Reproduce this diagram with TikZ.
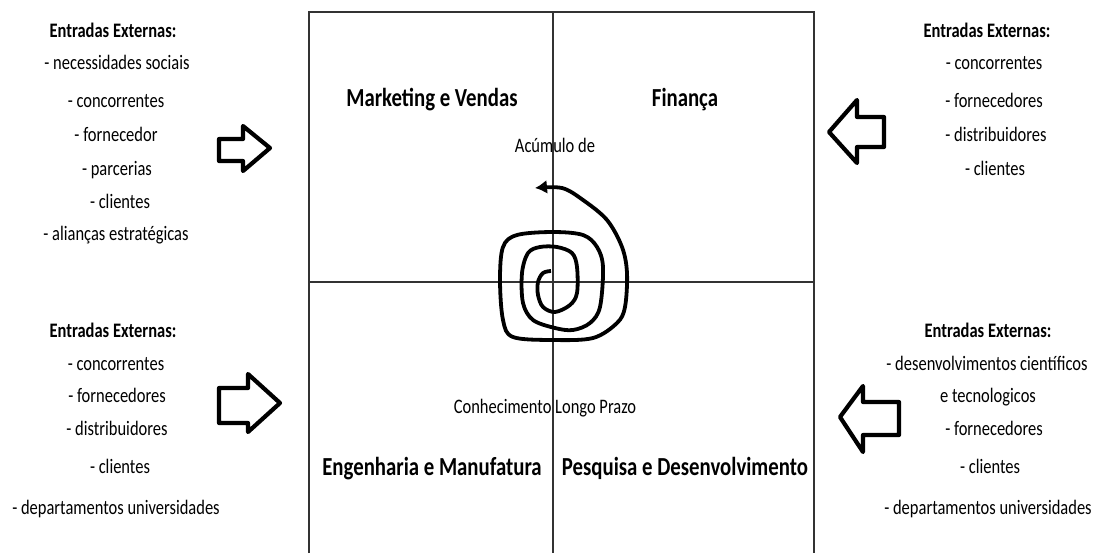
\documentclass[tikz,border=0pt]{standalone}
\usepackage{fontspec}
\setmainfont{Carlito}[FakeStretch=0.8]
\usepackage{tikz}
\usetikzlibrary{arrows.meta}

\tikzset{
	lista/.style={anchor=base, inner sep=0pt, font=\fontsize{10.3}{12}\selectfont},
	titulo/.style={lista, font=\bfseries\fontsize{10.3}{12}\selectfont},
	area/.style={anchor=base, inner sep=0pt, font=\bfseries\fontsize{13}{15}\selectfont},
	quadro/.style={draw=black!80, line width=1pt},
	seta/.style={draw, line width=2.1pt, line join=round},
}

\begin{document}
\begin{tikzpicture}[x=0.5pt, y=-0.5pt]
		\useasboundingbox (0,0) rectangle (1098,553);
		
		% Quadro com as quatro areas
		\coordinate (qa) at (309,553);
		\coordinate (qb) at (309,12);
		\coordinate (qc) at (814,12);
		\coordinate (qd) at (814,553);
		\coordinate (vtop) at (553,12);
		\coordinate (vbot) at (553,553);
		\coordinate (hesq) at (309,282);
		\coordinate (hdir) at (814,282);
		\draw[quadro] (qa) -- (qb) -- (qc) -- (qd);
		\draw[quadro] (vtop) -- (vbot);
		\draw[quadro] (hesq) -- (hdir);
		
		\node[area] (mkt) at (432,106) {Marketing e Vendas};
		\node[area] (fin) at (685,106) {Finança};
		\node[area] (eng) at (432,475) {Engenharia e Manufatura};
		\node[area] (ped) at (685,475) {Pesquisa e Desenvolvimento};
		
		\node[lista] (acum) at (555,152) {Acúmulo de};
		\node[lista] (conh) at (545,413) {Conhecimento Longo Prazo};
		
		% Espiral do conhecimento
		\draw[line width=1.9pt, line join=round, -{Latex[open, length=6pt, width=7pt]}]
			plot[smooth, tension=0.55] coordinates {
			(551,271) (543,273) (538,282) (538,295) (543,307) (555,312) (570,305)
			(577,293) (577,267) (572,253) (557,247) (540,247) (528,253) (522,273)
			(523,303) (533,320) (555,328) (573,330) (590,323) (600,307) (603,267)
			(597,247) (583,235) (553,232) (517,235) (503,247) (500,280) (503,320)
			(513,337) (553,340) (593,338) (617,323) (625,307) (627,273) (622,247)
			(607,220) (583,200) (562,188) (535,188)};
		
		% --- Entradas: superior esquerdo ---
		\node[titulo] (ee1) at (113,37) {Entradas Externas:};
		\node[lista] (ee1a) at (117,69) {- necessidades sociais};
		\node[lista] (ee1b) at (116,107) {- concorrentes};
		\node[lista] (ee1c) at (116,141) {- fornecedor};
		\node[lista] (ee1d) at (117,175) {- parcerias};
		\node[lista] (ee1e) at (120,208) {- clientes};
		\node[lista] (ee1f) at (116,240) {- alianças estratégicas};
		\draw[seta] (219,139) -- (243,139) -- (243,126) -- (270,148) -- (243,171) -- (243,161) -- (219,161) -- cycle;
		
		% --- Entradas: superior direito ---
		\node[titulo] (ee2) at (987,37) {Entradas Externas:};
		\node[lista] (ee2a) at (994,69) {- concorrentes};
		\node[lista] (ee2b) at (994,107) {- fornecedores};
		\node[lista] (ee2c) at (996,141) {- distribuidores};
		\node[lista] (ee2d) at (995,175) {- clientes};
		\draw[seta] (884,117) -- (857,117) -- (857,100) -- (829,132) -- (857,163) -- (857,147) -- (884,147) -- cycle;
		
		% --- Entradas: inferior esquerdo ---
		\node[titulo] (ee3) at (113,337) {Entradas Externas:};
		\node[lista] (ee3a) at (116,370) {- concorrentes};
		\node[lista] (ee3b) at (117,402) {- fornecedores};
		\node[lista] (ee3c) at (117,435) {- distribuidores};
		\node[lista] (ee3d) at (120,473) {- clientes};
		\node[lista] (ee3e) at (116,514) {- departamentos universidades};
		\draw[seta] (219,388) -- (248,388) -- (248,374) -- (280,403) -- (248,432) -- (248,423) -- (219,423) -- cycle;
		
		% --- Entradas: inferior direito ---
		\node[titulo] (ee4) at (988,337) {Entradas Externas:};
		\node[lista] (ee4a) at (987,370) {- desenvolvimentos científicos};
		\node[lista] (ee4b) at (988,402) {e tecnologicos};
		\node[lista] (ee4c) at (994,435) {- fornecedores};
		\node[lista] (ee4d) at (990,473) {- clientes};
		\node[lista] (ee4e) at (988,514) {- departamentos universidades};
		\draw[seta] (899,402) -- (863,402) -- (863,386) -- (840,417) -- (863,452) -- (863,435) -- (899,435) -- cycle;
		
	\end{tikzpicture}
\end{document}
